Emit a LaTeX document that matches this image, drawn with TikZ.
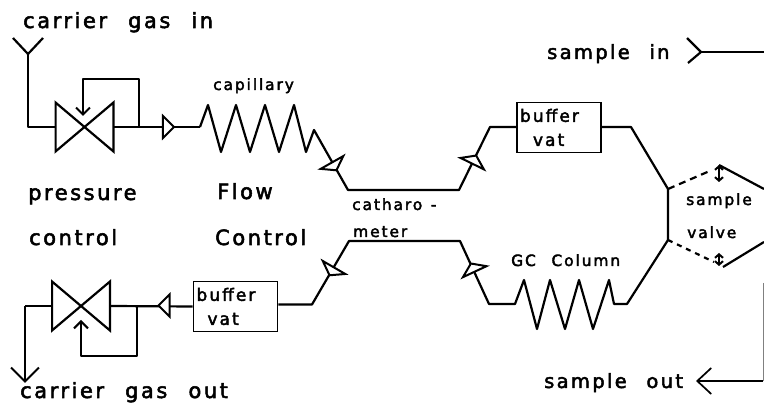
\documentclass[tikz,border=0pt]{standalone}
\usepackage{fontspec}
\setsansfont{DejaVu Sans}[LetterSpace=12,WordSpace=2.3,FakeBold=2.5]
\usetikzlibrary{arrows.meta,shapes.geometric}

\begin{document}
\begin{tikzpicture}[
  x=1pt,y=-1pt,
  font=\sffamily,
  pipe/.style={line width=2.2pt,line join=round},
  to/.style={pipe,-{Straight Barb[length=7pt,width=14pt,line width=2pt]}},
  outlet/.style={pipe,-{Straight Barb[length=14pt,width=28pt,line width=2pt]}},
  flip/.style={pipe,line width=2pt,{Straight Barb[length=3.5pt,width=8pt]}-{Straight Barb[length=3.5pt,width=8pt]}},
  valve/.style={minimum width=60pt,minimum height=53pt,inner sep=0pt,path picture={
      \draw[line width=2.2pt] ([shift={(1pt,2pt)}]path picture bounding box.south west) -- ([shift={(-1pt,-2pt)}]path picture bounding box.north east) -- ([shift={(-1pt,2pt)}]path picture bounding box.south east) -- ([shift={(1pt,-2pt)}]path picture bounding box.north west) -- cycle;}},
  joint/.style={draw,fill=white,line width=2pt,isosceles triangle,inner sep=0pt,isosceles triangle stretches},
  straightjoint/.style={joint,minimum height=11pt,minimum width=22pt},
  slantjoint/.style={joint,minimum height=9pt,minimum width=26pt},
  vat/.style={draw,line width=1.6pt,minimum height=50pt,text width=78pt,inner sep=3pt,align=left,
      font=\sffamily\fontsize{17}{24}\selectfont},
  big/.style={anchor=base west,inner sep=0pt,font=\sffamily\fontsize{21}{21}\selectfont},
  sampletext/.style={big,font=\sffamily\fontsize{19.5}{21}\selectfont},
  small/.style={anchor=base west,inner sep=0pt,font=\sffamily\fontsize{15.5}{16}\selectfont}]

  \useasboundingbox (0,0) rectangle (764,403);

  % Texts
  \node[big] (gasin) at (23,28) {carrier gas in};
  \node[big] (pressure) at (28,200) {pressure};
  \node[big] (control) at (29,245) {control};
  \node[big] (flow) at (217,199) {Flow};
  \node[big] (flowcontrol) at (215,245) {Control};
  \node[big] (gasout) at (20,398) {carrier gas out};
  \node[sampletext] (samplein) at (547,59) {sample in};
  \node[sampletext] (sampleout) at (544,388) {sample out};
  \node[small] (capillary) at (213,90) {capillary};
  \node[small] (catharo) at (352,210) {catharo\hspace{-7pt} -};
  \node[small] (meter) at (353,237) {meter};
  \node[small] (gccolumn) at (511,266) {GC Column};
  \node[small] (samplelabel) at (686,205) {sample};
  \node[small] (valvelabel) at (687,238) {valve};

  % Components
  \node[valve] (valvetop) at (84.5,127) {};
  \node[valve] (valvebot) at (81,306) {};
  \node[vat] (vattop) at (559,127.5) {buffer\\\hspace*{13pt}vat};
  \node[vat] (vatbot) at (235.5,306.5) {buffer\\\hspace*{11pt}vat};

  % Bends
  \coordinate (inlet) at (28,54);
  \coordinate (inbend) at (28,127);
  \coordinate (captop) at (200,127);
  \coordinate (capend) at (314,130);
  \coordinate (cathin) at (348,190);
  \coordinate (cathout) at (459,190);
  \coordinate (vatinbend) at (490,127);
  \coordinate (vatoutbend) at (631,127);
  \coordinate (portA) at (668,189);
  \coordinate (portB) at (668,240);
  \coordinate (botA) at (349,241);
  \coordinate (botB) at (460,241);
  \coordinate (botC) at (489,304);
  \coordinate (gcin) at (515,304);
  \coordinate (gcout) at (627,304);
  \coordinate (vatbend) at (312,304.5);
  \coordinate (outbend) at (25,306);

  % Carrier line, upper
  \draw[pipe] (13,38) -- (inlet) -- (43,38);
  \draw[pipe] (inlet) -- (inbend) -- ([xshift=1pt]valvetop.west);
  \draw[pipe] ([xshift=-1pt]valvetop.east) -- (captop);
  \draw[to] (139,127) -- (139,79) -- (83,79) -- (83,116);
  \draw[pipe] (captop) -- ++(8,-22) -- ++(13,47) -- ++(15,-47) -- ++(14,47) -- ++(15,-47)
      -- ++(14,47) -- ++(15,-47) -- ++(12,47) -- ++(8,-22) -- (cathin) -- (cathout)
      -- (vatinbend) -- (vattop.west |- vatinbend);
  \draw[pipe] (vattop.east |- vatoutbend) -- (vatoutbend) -- (portA) -- (portB);

  % Carrier line, lower
  \draw[pipe] (portB) -- (gcout) -- ++(-13,0) -- ++(-5,-24) -- ++(-16,49) -- ++(-14,-49)
      -- ++(-14,49) -- ++(-15,-49) -- ++(-13,49) -- ++(-13,-49) -- (gcin) -- (botC)
      -- (botB) -- (botA) -- (vatbend) -- (vatbot.east |- vatbend);
  \draw[pipe] (vatbot.west) -- ([xshift=-1pt]valvebot.east);
  \draw[to] (137,306) -- (137,356) -- (81,356) -- (81,320);
  \draw[pipe] ([xshift=1pt]valvebot.west) -- (outbend);
  \draw[outlet] (outbend) -- (25,383);

  % Joints
  \node[straightjoint] (jointa) at (167.5,127) {};
  \node[slantjoint,rotate=-60.5] (jointb) at (334,166) {};
  \node[slantjoint,rotate=64] (jointc) at (474,160) {};
  \node[slantjoint,rotate=115] (jointd) at (473,268) {};
  \node[slantjoint,rotate=-120] (jointe) at (332,271) {};
  \node[straightjoint,rotate=180] (jointf) at (165,305.5) {};

  % Sample valve
  \coordinate (flipA) at (719,165);
  \coordinate (flipB) at (720,267);
  \draw[pipe,dashed,dash pattern=on 7pt off 5pt] (portA) -- (712,170);
  \draw[pipe,dashed,dash pattern=on 5pt off 5pt] (portB) -- (714,262);
  \draw[flip] (flipA) -- (719,182);
  \draw[flip] (719,253) -- (719,266);
  \draw[pipe] (flipA) -- (764,189);
  \draw[pipe] (723,267) -- (764,242);

  % Sample in and out
  \coordinate (sampleport) at (701,52);
  \coordinate (sampleback) at (763,381);
  \draw[pipe] (687,38) -- (sampleport) -- (688,63);
  \draw[pipe,line width=1.6pt] (sampleport) -- (764,52);
  \draw[line width=.5pt,gray] (763,283) -- (sampleback);
  \draw[pipe,line width=1.6pt,-{Straight Barb[length=14pt,width=26pt,line width=1.7pt]}] (sampleback) -- (696,381);
\end{tikzpicture}
\end{document}
